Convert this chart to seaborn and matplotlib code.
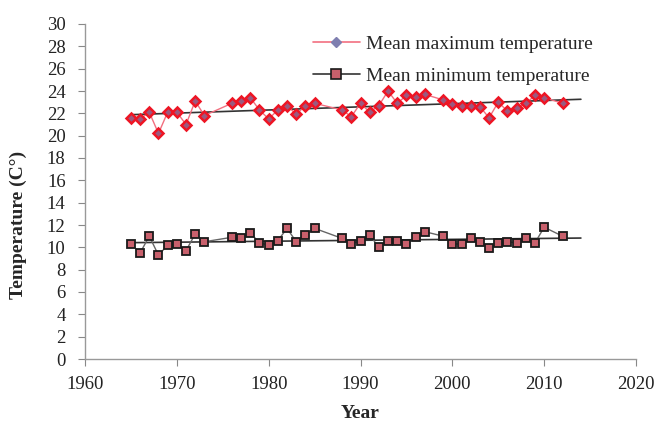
import numpy as np
import pandas as pd
import matplotlib
matplotlib.use("Agg")
import matplotlib.pyplot as plt
from matplotlib.lines import Line2D
import seaborn as sns

years = [1965, 1966, 1967, 1968, 1969, 1970, 1971, 1972, 1973,
         1976, 1977, 1978, 1979, 1980, 1981, 1982, 1983, 1984, 1985,
         1988, 1989, 1990, 1991, 1992, 1993, 1994, 1995, 1996, 1997,
         1999, 2000, 2001, 2002, 2003, 2004, 2005, 2006, 2007, 2008, 2009, 2010,
         2012]
tmax = [21.6, 21.5, 22.1, 20.2, 22.1, 22.1, 21.0, 23.1, 21.8,
        22.9, 23.1, 23.4, 22.3, 21.5, 22.3, 22.7, 21.9, 22.7, 22.9,
        22.3, 21.7, 22.9, 22.1, 22.7, 24.0, 22.9, 23.6, 23.5, 23.7,
        23.2, 22.8, 22.7, 22.7, 22.6, 21.6, 23.0, 22.2, 22.5, 22.9, 23.6, 23.4,
        22.9]
tmin = [10.3, 9.5, 11.0, 9.3, 10.2, 10.3, 9.7, 11.2, 10.5,
        10.9, 10.8, 11.3, 10.4, 10.2, 10.6, 11.7, 10.5, 11.1, 11.7,
        10.8, 10.3, 10.6, 11.1, 10.0, 10.6, 10.6, 10.3, 10.9, 11.4,
        11.0, 10.3, 10.3, 10.8, 10.5, 9.9, 10.4, 10.5, 10.4, 10.8, 10.4, 11.8,
        11.0]
labels = ["Mean maximum temperature", "Mean minimum temperature"]
xticks = [1960, 1970, 1980, 1990, 2000, 2010, 2020]
yticks = list(range(0, 31, 2))
trend_end = 2014

df = pd.DataFrame({"year": years, "tmax": tmax, "tmin": tmin})

sns.set_style("white")
plt.rcParams["font.family"] = ["Liberation Serif", "DejaVu Serif"]

fig = plt.figure(figsize=(6.59, 4.21), dpi=100)
ax = fig.add_axes([85 / 659, 62 / 421, 551 / 659, 335 / 421])

# trend lines (least squares, extended forward as in spreadsheet trendline)
tx = np.array([years[0], trend_end])
for col in ["tmax", "tmin"]:
    k, b = np.polyfit(df["year"], df[col], 1)
    sns.lineplot(x=tx, y=k * tx + b, ax=ax, color="#333333", lw=1.2, zorder=1)

sns.lineplot(data=df, x="year", y="tmax", ax=ax, color="#f27080", lw=1.0,
             marker="D", markersize=5.2, markerfacecolor="#9a5a80",
             markeredgecolor="#ee1524", markeredgewidth=1.8, zorder=3)
sns.lineplot(data=df, x="year", y="tmin", ax=ax, color="#666666", lw=1.0,
             marker="s", markersize=6, markerfacecolor="#c8606c",
             markeredgecolor="#1a1a1a", markeredgewidth=1.3, zorder=3)

ax.set_xlim(1960, 2020)
ax.set_ylim(0, 30)
ax.set_xticks(xticks)
ax.set_yticks(yticks)
ax.tick_params(axis="both", labelsize=13.5, colors="#222222", length=5,
               width=0.8, direction="out", left=True, bottom=True)
ax.tick_params(axis="y", pad=9)
ax.tick_params(axis="x", pad=7)
ax.tick_params(axis="both", color="#888888")
for s in ["top", "right"]:
    ax.spines[s].set_visible(False)
for s in ["left", "bottom"]:
    ax.spines[s].set_color("#999999")
    ax.spines[s].set_linewidth(1.0)

ax.set_xlabel("Year", fontsize=14, fontweight="bold", labelpad=9)
ax.set_ylabel("Temperature (C°)", fontsize=14, fontweight="bold")
ax.yaxis.set_label_coords(-58 / 551, 0.40)

handles = [
    Line2D([], [], color="#f27080", lw=1.2, marker="D", markersize=5,
           markerfacecolor="#7f7fb0", markeredgecolor="#7f7fb0"),
    Line2D([], [], color="#333333", lw=1.2, marker="s", markersize=6.5,
           markerfacecolor="#c8606c", markeredgecolor="#1a1a1a", markeredgewidth=1.2),
]
leg = ax.legend(handles, labels, loc="upper left",
                bbox_to_anchor=((313 - 85) / 551, (421 - 35 - 62) / 335),
                frameon=False, fontsize=14, handlelength=2.4, handletextpad=0.35,
                labelspacing=0.75, borderpad=0, borderaxespad=0)

fig.savefig("out.png", dpi=100)
